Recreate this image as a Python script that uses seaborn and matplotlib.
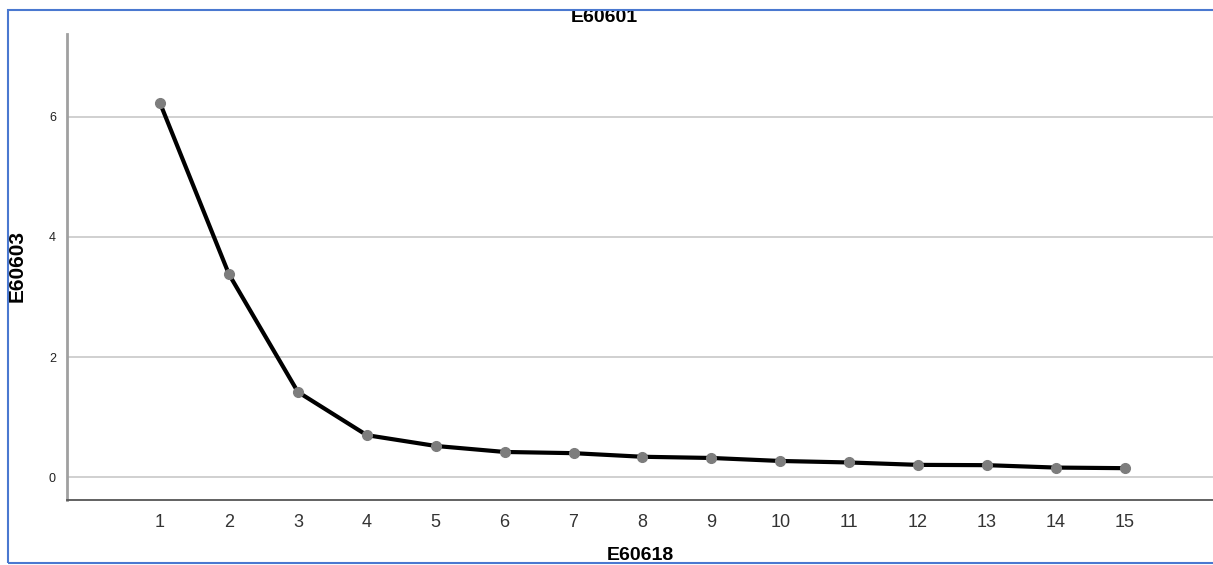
import numpy as np
import pandas as pd
import matplotlib.pyplot as plt
import seaborn as sns
from matplotlib.patches import Rectangle

# scree values
components = list(range(1, 16))
eigenvalues = [6.23, 3.38, 1.42, 0.70, 0.52, 0.42, 0.40, 0.34, 0.32,
               0.27, 0.245, 0.205, 0.20, 0.16, 0.15]
yticks = [0, 2, 4, 6]

df = pd.DataFrame({"E60618": components, "E60603": eigenvalues})

sns.set_style("whitegrid", {"grid.color": "#c8c8c8", "axes.edgecolor": "#7a7a7a",
                            "text.color": "black"})
plt.rcParams["font.family"] = ["Liberation Sans Narrow", "Liberation Sans", "DejaVu Sans"]

fig = plt.figure(figsize=(12.13, 5.65), dpi=100)
ax = fig.add_axes([67 / 1213, 1 - 500 / 565, 1 - 67 / 1213, (500 - 34) / 565])

sns.lineplot(data=df, x="E60618", y="E60603", ax=ax, color="black", linewidth=3,
             zorder=2)
ax.plot(df["E60618"], df["E60603"], linestyle="none", marker="o", markersize=7,
        color="#7d7d7d", zorder=3)

ax.set_xlim(-0.35, 16.28)
ax.set_ylim(-0.38, 7.38)
ax.set_xticks(components)
ax.set_yticks(yticks)
ax.grid(axis="x", visible=False)
ax.grid(axis="y", color="#c8c8c8", linewidth=1.2)
ax.tick_params(axis="x", labelsize=13, colors="#333333", length=0, pad=10)
ax.tick_params(axis="y", labelsize=9, colors="#222222", length=0, pad=8)
ax.spines["top"].set_visible(False)
ax.spines["right"].set_visible(False)
ax.spines["left"].set_color("#a0a0a0")
ax.spines["left"].set_linewidth(2)
ax.spines["bottom"].set_color("#555555")
ax.spines["bottom"].set_linewidth(1.3)
ax.set_xlabel("")
ax.set_ylabel("")

fig.text(604 / 1213, 1 - 18 / 565, "E60601", ha="center", va="center",
         fontsize=14, fontweight="bold", color="black")
fig.text(640 / 1213, 1 - 555 / 565, "E60618", ha="center", va="center",
         fontsize=14, fontweight="bold", color="black")
fig.text(17 / 1213, 1 - 266 / 565, "E60603", ha="center", va="center",
         fontsize=15, fontweight="bold", rotation=90, color="black")

# blue frame around the chart
fig.patches.append(Rectangle((8 / 1213, 1 - 563 / 565), 1.2, (563 - 10) / 565,
                             transform=fig.transFigure, fill=False,
                             edgecolor="#4a78d0", linewidth=1.5, zorder=10))

fig.savefig("out.png", dpi=100)
